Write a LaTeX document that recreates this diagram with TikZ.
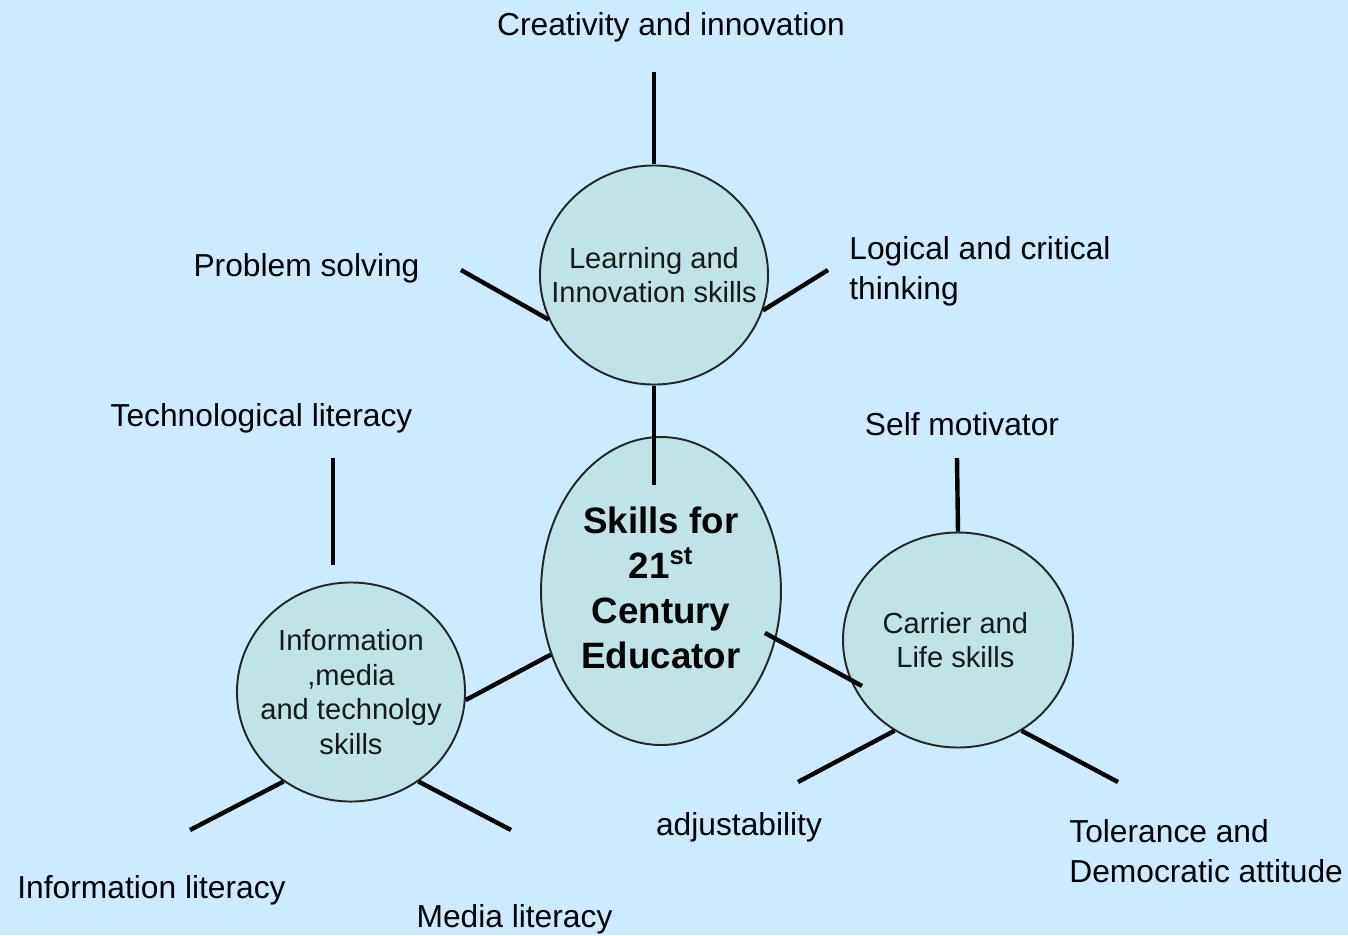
\documentclass[tikz,border=0pt]{standalone}
\usepackage{fontspec}
\setmainfont{Liberation Sans}
\usetikzlibrary{shapes.geometric}
\definecolor{bgblue}{HTML}{CCEBFF}
\definecolor{bubfill}{HTML}{BFE3E6}
\begin{document}
\begin{tikzpicture}[x=0.5669pt,y=-0.5669pt,
  lbl/.style={font=\fontsize{18}{22.5}\selectfont, inner sep=0pt, text=black},
  mlbl/.style={lbl, align=left},
  bubble/.style={ellipse, draw=black!85, line width=1.1pt, fill=bubfill, inner sep=0pt},
  btext/.style={font=\fontsize{16.5}{19.5}\selectfont, align=center, inner sep=0pt, text=black!90},
  ctext/.style={font=\fontsize{20.8}{25.5}\selectfont\bfseries, align=center, inner sep=0pt, text=black},
  spoke/.style={line width=2.5pt, draw=black}]
\fill[bgblue] (0,0) rectangle (1348,935);
\useasboundingbox (0,0) rectangle (1348,935);

% bubbles
\node[bubble, minimum width=129.3pt, minimum height=124.2pt,
  label={[btext]center:Learning and\\Innovation skills}] (learn) at (654,275) {};
\node[bubble, minimum width=136pt, minimum height=174.6pt,
  label={[ctext, yshift=2pt]center:Skills for\\21\textsuperscript{st}\\Century\\Educator}] (center) at (661,591) {};
\node[bubble, minimum width=129.3pt, minimum height=124.2pt,
  label={[btext]center:Information\\,media\\and technolgy\\skills}] (info) at (351,692) {};
\node[bubble, minimum width=130.4pt, minimum height=121.9pt,
  label={[btext, xshift=-1.5pt]center:Carrier and\\Life skills}] (carrier) at (958,640) {};

% labels
\node[lbl, anchor=base] (creat) at (671,35) {Creativity and innovation};
\node[lbl, anchor=base] (prob) at (306.5,276) {Problem solving};
\node[mlbl, anchor=north west] (logic) at (849,236) {Logical and critical\\thinking};
\node[lbl, anchor=base] (tech) at (261.5,426) {Technological literacy};
\node[lbl, anchor=base] (selfm) at (962,435) {Self motivator};
\node[lbl, anchor=base] (infol) at (151.5,898) {Information literacy};
\node[lbl, anchor=base] (medial) at (514.5,927) {Media literacy};
\node[lbl, anchor=base] (adjust) at (739,835) {adjustability};
\node[mlbl, anchor=north west] (toler) at (1069,819) {Tolerance and\\Democratic attitude};

% free ends
\coordinate (eCreat) at (654,72);
\coordinate (eProb) at (461,270);
\coordinate (eLogic) at (828,270);
\coordinate (eLC) at (654,485);
\coordinate (eTechA) at (333,458);
\coordinate (eTechB) at (333,565);
\coordinate (eSelf) at (957,458);
\coordinate (eInfoL) at (190,830);
\coordinate (eMedia) at (511,830);
\coordinate (eAdj) at (798,782);
\coordinate (eTol) at (1118,782);
\coordinate (eCC1) at (765,633);
\coordinate (eCC2) at (862,686);

% spokes
\draw[spoke] (eCreat) -- (learn.north);
\draw[spoke] (eProb) -- (learn.203.6);
\draw[spoke] (eLogic) -- (learn.-18);
\draw[spoke] (learn.south) -- (eLC);
\draw[spoke] (eTechA) -- (eTechB);
\draw[spoke] (center.210.2) -- (info.-4);
\draw[spoke] (eCC1) -- (eCC2);
\draw[spoke] (eSelf) -- (carrier.north);
\draw[spoke] (eInfoL) -- (info.233.3);
\draw[spoke] (eMedia) -- (info.-53.3);
\draw[spoke] (eAdj) -- (carrier.235);
\draw[spoke] (eTol) -- (carrier.-55.5);
\end{tikzpicture}
\end{document}
